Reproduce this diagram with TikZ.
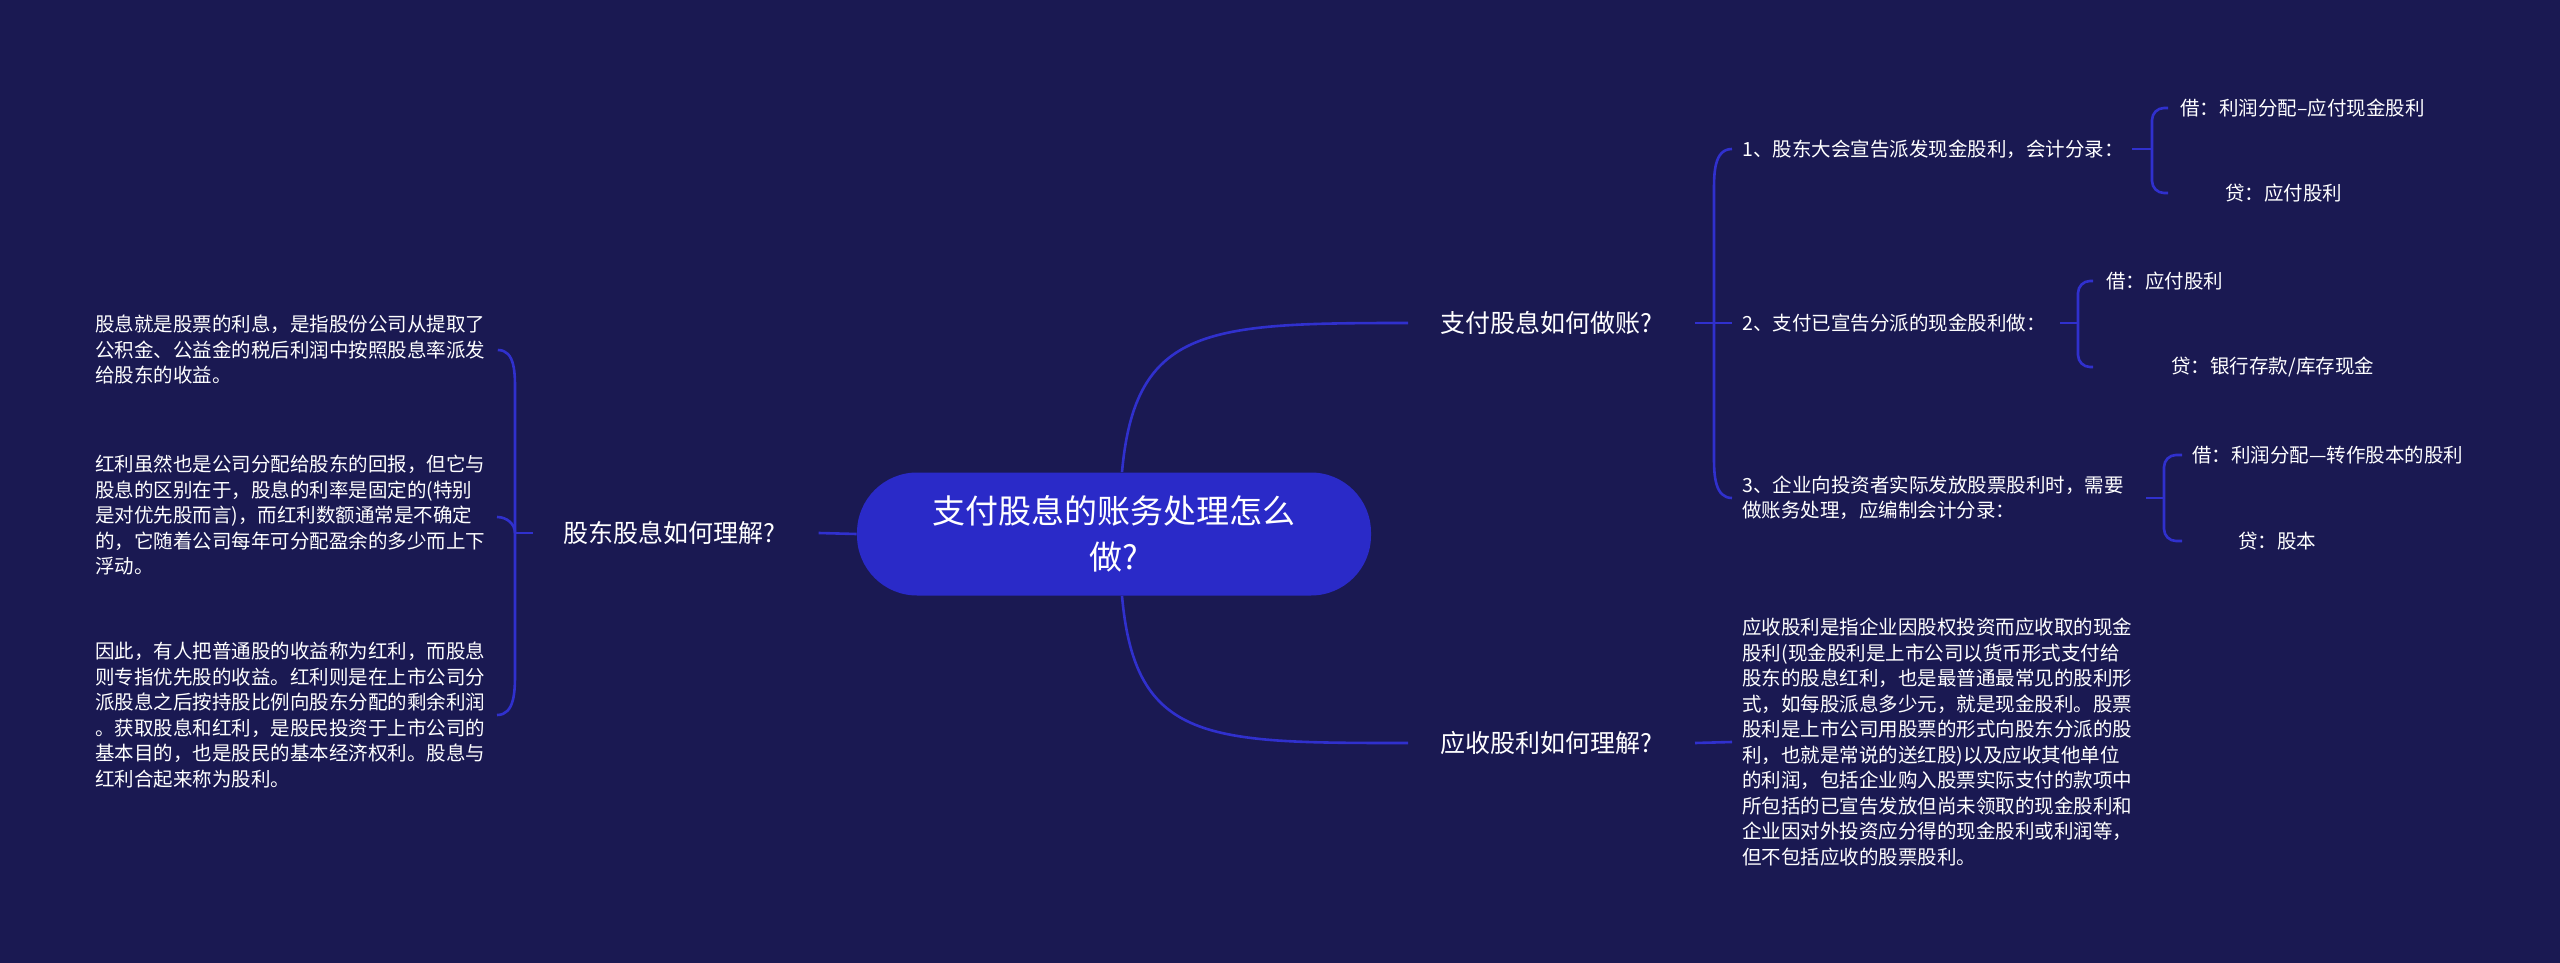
\documentclass[tikz,border=0pt]{standalone}
\usepackage{fontspec}
\setmainfont{Noto Sans CJK SC}
\definecolor{bg}{RGB}{26,25,82}
\definecolor{ctrfill}{RGB}{42,42,200}
\definecolor{linkc}{RGB}{48,48,205}
\tikzset{
  link/.style={draw=linkc, line width=1.3pt},
  txt/.style={text=white, inner sep=0pt, anchor=west, align=left},
  mainlbl/.style={txt, font=\fontsize{12.5}{16}\selectfont},
  leaf/.style={txt, font=\fontsize{9.75}{12.75}\selectfont},
  rootbox/.style={fill=ctrfill, text=white, rounded corners=30pt, minimum width=257pt, minimum height=61.5pt, align=center, inner sep=0pt, font=\fontsize{16.5}{23}\selectfont}
}
\begin{document}
\begin{tikzpicture}[x=0.5pt,y=-0.5pt]
\fill[bg] (0,0) rectangle (2560,963);
\useasboundingbox (0,0) rectangle (2560,963);

% root
\node[rootbox] (ctr) at (1114,534) {支付股息的账务处理怎么\\做?};

% main branches
\node[mainlbl] (m1) at (1440,323) {支付股息如何做账?};
\node[mainlbl] (m2) at (1440,743) {应收股利如何理解?};
\node[mainlbl] (m3) at (563,533) {股东股息如何理解?};

% left leaves
\node[leaf] (l1) at (95,350) {股息就是股票的利息，是指股份公司从提取了\\公积金、公益金的税后利润中按照股息率派发\\给股东的收益。};
\node[leaf] (l2) at (95,515) {红利虽然也是公司分配给股东的回报，但它与\\股息的区别在于，股息的利率是固定的(特别\\是对优先股而言)，而红利数额通常是不确定\\的，它随着公司每年可分配盈余的多少而上下\\浮动。};
\node[leaf] (l3) at (95,715) {因此，有人把普通股的收益称为红利，而股息\\则专指优先股的收益。红利则是在上市公司分\\派股息之后按持股比例向股东分配的剩余利润\\。获取股息和红利，是股民投资于上市公司的\\基本目的，也是股民的基本经济权利。股息与\\红利合起来称为股利。};

% right items
\node[leaf] (r1) at (1742,149) {1、股东大会宣告派发现金股利，会计分录：};
\node[leaf] (r2) at (1742,323) {2、支付已宣告分派的现金股利做：};
\node[leaf] (r3) at (1742,498) {3、企业向投资者实际发放股票股利时，需要\\做账务处理，应编制会计分录：};
\node[leaf] (r4) at (1742,742) {应收股利是指企业因股权投资而应收取的现金\\股利(现金股利是上市公司以货币形式支付给\\股东的股息红利，也是最普通最常见的股利形\\式，如每股派息多少元，就是现金股利。股票\\股利是上市公司用股票的形式向股东分派的股\\利，也就是常说的送红股)以及应收其他单位\\的利润，包括企业购入股票实际支付的款项中\\所包括的已宣告发放但尚未领取的现金股利和\\企业因对外投资应分得的现金股利或利润等，\\但不包括应收的股票股利。};

% sub leaves
\node[leaf] (r1a) at (2180,108) {借：利润分配–应付现金股利};
\node[leaf] (r1b) at (2225,193) {贷：应付股利};
\node[leaf] (r2a) at (2106,281) {借：应付股利};
\node[leaf] (r2b) at (2171,367) {贷：银行存款/库存现金};
\node[leaf] (r3a) at (2192,455) {借：利润分配—转作股本的股利};
\node[leaf] (r3b) at (2238,541) {贷：股本};

% bracket coordinates
\coordinate (m1s) at (1695,323);
\coordinate (m1b) at (1714,323);
\coordinate (m2s) at (1695,743);
\coordinate (m3s) at (533,533);
\coordinate (m3b) at (515,533);
\coordinate (r1s) at (2132,149);
\coordinate (r1b) at (2152,149);
\coordinate (r2s) at (2060,323);
\coordinate (r2b) at (2078,323);
\coordinate (r3s) at (2146,498);
\coordinate (r3b) at (2164,498);

% root to main branches
\draw[link] ([xshift=4pt]ctr.north) .. controls (1135,326) and (1208,323) .. ([xshift=-16pt]m1.west);
\draw[link] ([xshift=4pt]ctr.south) .. controls (1135,743) and (1208,743) .. ([xshift=-16pt]m2.west);
\draw[link] (ctr.west) -- ([xshift=21.5pt]m3.east);

% left bracket
\draw[link] (m3s) -- (m3b);
\draw[link] (m3b) -- (515,392) to[out=90,in=0] ([xshift=6pt]l1.east |- l1.west);
\draw[link] (m3b) to[out=90,in=0] (497,517);
\draw[link] (m3b) -- (515,673) to[out=-90,in=0] (497,715);

% right main bracket
\draw[link] (m1s) -- ([xshift=-5pt]r2.west);
\draw[link] (m1b) -- (1714,192) to[out=90,in=180] ([xshift=-5pt]r1.west);
\draw[link] (m1b) -- (1714,458) to[out=-90,in=180] ([xshift=-5pt]r3.west);
\draw[link] (m2s) -- ([xshift=-5pt]r4.west);

% sub brackets
\draw[link] (r1s) -- (r1b);
\draw[link, rounded corners=6pt] (r1b) |- (2168,108);
\draw[link, rounded corners=6pt] (r1b) |- (2168,193);
\draw[link] (r2s) -- (r2b);
\draw[link, rounded corners=6pt] (r2b) |- (2093,281);
\draw[link, rounded corners=6pt] (r2b) |- (2093,367);
\draw[link] (r3s) -- (r3b);
\draw[link, rounded corners=6pt] (r3b) |- (2182,455);
\draw[link, rounded corners=6pt] (r3b) |- (2182,541);
\end{tikzpicture}
\end{document}
